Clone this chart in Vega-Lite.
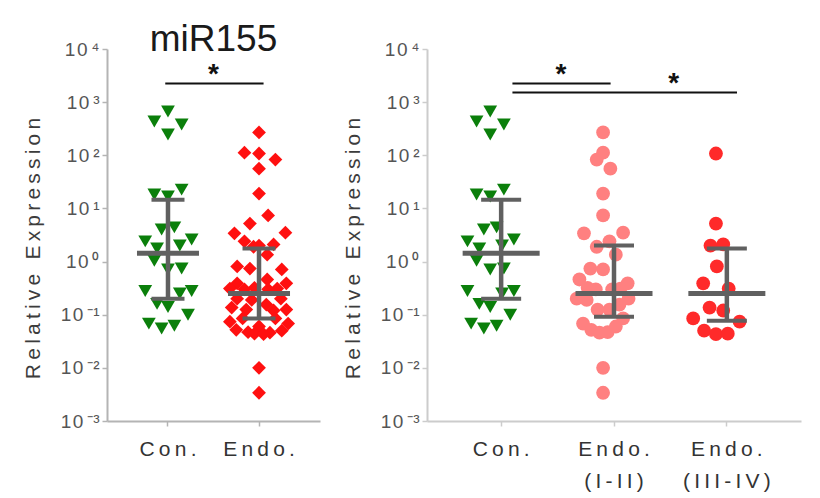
{
  "$schema": "https://vega.github.io/schema/vega-lite/v6.json",
  "background": "white",
  "padding": {"left": 22, "top": 21, "right": 5, "bottom": 2},
  "spacing": 22,
  "config": {
    "font": "Liberation Sans",
    "view": {"stroke": null},
    "tick": {"opacity": 1},
    "axis": {
      "grid": false,
      "labelFont": "Liberation Sans",
      "titleFont": "Liberation Sans",
      "domainColor": "#b4b4b4",
      "domainWidth": 2,
      "tickColor": "#b4b4b4",
      "tickWidth": 1.5,
      "tickSize": 5
    }
  },
  "resolve": {"scale": {"color": "independent", "shape": "independent"}},
  "datasets": {
    "leftPoints": [
      {"group": "Con.", "value": 665, "jitter": 0},
      {"group": "Con.", "value": 434, "jitter": -0.15},
      {"group": "Con.", "value": 380, "jitter": 0.15},
      {"group": "Con.", "value": 246, "jitter": 0},
      {"group": "Con.", "value": 18.3, "jitter": -0.15},
      {"group": "Con.", "value": 16.7, "jitter": 0},
      {"group": "Con.", "value": 22.6, "jitter": 0.15},
      {"group": "Con.", "value": 4.0, "jitter": -0.07},
      {"group": "Con.", "value": 4.4, "jitter": 0.07},
      {"group": "Con.", "value": 2.4, "jitter": -0.25},
      {"group": "Con.", "value": 1.76, "jitter": -0.12},
      {"group": "Con.", "value": 2.0, "jitter": 0.13},
      {"group": "Con.", "value": 2.6, "jitter": 0.26},
      {"group": "Con.", "value": 1.04, "jitter": -0.15},
      {"group": "Con.", "value": 0.71, "jitter": 0},
      {"group": "Con.", "value": 0.74, "jitter": 0.15},
      {"group": "Con.", "value": 0.28, "jitter": -0.25},
      {"group": "Con.", "value": 0.16, "jitter": -0.12},
      {"group": "Con.", "value": 0.14, "jitter": 0},
      {"group": "Con.", "value": 0.25, "jitter": 0.13},
      {"group": "Con.", "value": 0.28, "jitter": 0.26},
      {"group": "Con.", "value": 0.10, "jitter": 0.22},
      {"group": "Con.", "value": 0.068, "jitter": -0.21},
      {"group": "Con.", "value": 0.055, "jitter": -0.07},
      {"group": "Con.", "value": 0.062, "jitter": 0.07},
      {"group": "Endo.", "value": 269, "jitter": 0},
      {"group": "Endo.", "value": 112, "jitter": -0.16},
      {"group": "Endo.", "value": 108, "jitter": 0},
      {"group": "Endo.", "value": 83, "jitter": 0.18},
      {"group": "Endo.", "value": 56, "jitter": 0},
      {"group": "Endo.", "value": 19, "jitter": 0},
      {"group": "Endo.", "value": 7.4, "jitter": 0.10},
      {"group": "Endo.", "value": 5.2, "jitter": -0.10},
      {"group": "Endo.", "value": 3.5, "jitter": 0.29},
      {"group": "Endo.", "value": 3.4, "jitter": -0.27},
      {"group": "Endo.", "value": 2.4, "jitter": -0.16},
      {"group": "Endo.", "value": 2.1, "jitter": 0.16},
      {"group": "Endo.", "value": 2.0, "jitter": 0},
      {"group": "Endo.", "value": 1.9, "jitter": -0.06},
      {"group": "Endo.", "value": 1.35, "jitter": 0.09},
      {"group": "Endo.", "value": 0.81, "jitter": -0.24},
      {"group": "Endo.", "value": 0.74, "jitter": -0.10},
      {"group": "Endo.", "value": 0.71, "jitter": 0.25},
      {"group": "Endo.", "value": 0.46, "jitter": 0.09},
      {"group": "Endo.", "value": 0.39, "jitter": -0.24},
      {"group": "Endo.", "value": 0.39, "jitter": 0.30},
      {"group": "Endo.", "value": 0.32, "jitter": -0.05},
      {"group": "Endo.", "value": 0.31, "jitter": 0.20},
      {"group": "Endo.", "value": 0.31, "jitter": -0.32},
      {"group": "Endo.", "value": 0.30, "jitter": 0.10},
      {"group": "Endo.", "value": 0.30, "jitter": -0.16},
      {"group": "Endo.", "value": 0.20, "jitter": -0.24},
      {"group": "Endo.", "value": 0.20, "jitter": 0.24},
      {"group": "Endo.", "value": 0.19, "jitter": -0.08},
      {"group": "Endo.", "value": 0.155, "jitter": 0.08},
      {"group": "Endo.", "value": 0.136, "jitter": -0.30},
      {"group": "Endo.", "value": 0.125, "jitter": -0.14},
      {"group": "Endo.", "value": 0.125, "jitter": 0.30},
      {"group": "Endo.", "value": 0.12, "jitter": 0.16},
      {"group": "Endo.", "value": 0.085, "jitter": -0.18},
      {"group": "Endo.", "value": 0.085, "jitter": 0.18},
      {"group": "Endo.", "value": 0.074, "jitter": -0.32},
      {"group": "Endo.", "value": 0.068, "jitter": 0.32},
      {"group": "Endo.", "value": 0.060, "jitter": 0},
      {"group": "Endo.", "value": 0.052, "jitter": -0.25},
      {"group": "Endo.", "value": 0.050, "jitter": 0.25},
      {"group": "Endo.", "value": 0.047, "jitter": -0.12},
      {"group": "Endo.", "value": 0.046, "jitter": 0.12},
      {"group": "Endo.", "value": 0.044, "jitter": -0.05},
      {"group": "Endo.", "value": 0.043, "jitter": 0.05},
      {"group": "Endo.", "value": 0.010, "jitter": 0},
      {"group": "Endo.", "value": 0.0034, "jitter": 0}
    ],
    "rightPoints": [
      {"group": "Con.", "value": 665, "jitter": 0},
      {"group": "Con.", "value": 434, "jitter": -0.15},
      {"group": "Con.", "value": 380, "jitter": 0.15},
      {"group": "Con.", "value": 246, "jitter": 0},
      {"group": "Con.", "value": 18.3, "jitter": -0.15},
      {"group": "Con.", "value": 16.7, "jitter": 0},
      {"group": "Con.", "value": 22.6, "jitter": 0.15},
      {"group": "Con.", "value": 4.0, "jitter": -0.07},
      {"group": "Con.", "value": 4.4, "jitter": 0.07},
      {"group": "Con.", "value": 2.4, "jitter": -0.25},
      {"group": "Con.", "value": 1.76, "jitter": -0.12},
      {"group": "Con.", "value": 2.0, "jitter": 0.13},
      {"group": "Con.", "value": 2.6, "jitter": 0.26},
      {"group": "Con.", "value": 1.04, "jitter": -0.15},
      {"group": "Con.", "value": 0.71, "jitter": 0},
      {"group": "Con.", "value": 0.74, "jitter": 0.15},
      {"group": "Con.", "value": 0.28, "jitter": -0.25},
      {"group": "Con.", "value": 0.16, "jitter": -0.12},
      {"group": "Con.", "value": 0.14, "jitter": 0},
      {"group": "Con.", "value": 0.25, "jitter": 0.13},
      {"group": "Con.", "value": 0.28, "jitter": 0.26},
      {"group": "Con.", "value": 0.10, "jitter": 0.22},
      {"group": "Con.", "value": 0.068, "jitter": -0.21},
      {"group": "Con.", "value": 0.055, "jitter": -0.07},
      {"group": "Con.", "value": 0.062, "jitter": 0.07},
      {"group": "Endo. (I-II)", "value": 269, "jitter": 0},
      {"group": "Endo. (I-II)", "value": 112, "jitter": 0},
      {"group": "Endo. (I-II)", "value": 83, "jitter": -0.07},
      {"group": "Endo. (I-II)", "value": 56, "jitter": 0.08},
      {"group": "Endo. (I-II)", "value": 19, "jitter": 0},
      {"group": "Endo. (I-II)", "value": 7.4, "jitter": 0},
      {"group": "Endo. (I-II)", "value": 3.4, "jitter": -0.21},
      {"group": "Endo. (I-II)", "value": 3.5, "jitter": 0.22},
      {"group": "Endo. (I-II)", "value": 2.4, "jitter": 0.07},
      {"group": "Endo. (I-II)", "value": 1.9, "jitter": -0.07},
      {"group": "Endo. (I-II)", "value": 1.35, "jitter": 0.14},
      {"group": "Endo. (I-II)", "value": 0.74, "jitter": -0.14},
      {"group": "Endo. (I-II)", "value": 0.71, "jitter": 0},
      {"group": "Endo. (I-II)", "value": 0.46, "jitter": -0.26},
      {"group": "Endo. (I-II)", "value": 0.39, "jitter": 0.27},
      {"group": "Endo. (I-II)", "value": 0.32, "jitter": -0.17},
      {"group": "Endo. (I-II)", "value": 0.30, "jitter": -0.08},
      {"group": "Endo. (I-II)", "value": 0.30, "jitter": 0.10},
      {"group": "Endo. (I-II)", "value": 0.31, "jitter": 0.19},
      {"group": "Endo. (I-II)", "value": 0.20, "jitter": -0.29},
      {"group": "Endo. (I-II)", "value": 0.20, "jitter": 0.28},
      {"group": "Endo. (I-II)", "value": 0.19, "jitter": -0.18},
      {"group": "Endo. (I-II)", "value": 0.155, "jitter": 0.18},
      {"group": "Endo. (I-II)", "value": 0.125, "jitter": -0.06},
      {"group": "Endo. (I-II)", "value": 0.125, "jitter": 0.07},
      {"group": "Endo. (I-II)", "value": 0.085, "jitter": 0.22},
      {"group": "Endo. (I-II)", "value": 0.068, "jitter": -0.22},
      {"group": "Endo. (I-II)", "value": 0.060, "jitter": 0.14},
      {"group": "Endo. (I-II)", "value": 0.052, "jitter": -0.13},
      {"group": "Endo. (I-II)", "value": 0.046, "jitter": -0.04},
      {"group": "Endo. (I-II)", "value": 0.047, "jitter": 0.05},
      {"group": "Endo. (I-II)", "value": 0.010, "jitter": 0},
      {"group": "Endo. (I-II)", "value": 0.0034, "jitter": 0},
      {"group": "Endo. (III-IV)", "value": 108, "jitter": 0},
      {"group": "Endo. (III-IV)", "value": 5.2, "jitter": 0},
      {"group": "Endo. (III-IV)", "value": 2.0, "jitter": -0.06},
      {"group": "Endo. (III-IV)", "value": 2.1, "jitter": 0.08},
      {"group": "Endo. (III-IV)", "value": 0.81, "jitter": 0.01},
      {"group": "Endo. (III-IV)", "value": 0.39, "jitter": -0.14},
      {"group": "Endo. (III-IV)", "value": 0.31, "jitter": 0.14},
      {"group": "Endo. (III-IV)", "value": 0.136, "jitter": -0.07},
      {"group": "Endo. (III-IV)", "value": 0.12, "jitter": 0.08},
      {"group": "Endo. (III-IV)", "value": 0.085, "jitter": -0.25},
      {"group": "Endo. (III-IV)", "value": 0.074, "jitter": 0.26},
      {"group": "Endo. (III-IV)", "value": 0.050, "jitter": -0.13},
      {"group": "Endo. (III-IV)", "value": 0.043, "jitter": 0},
      {"group": "Endo. (III-IV)", "value": 0.044, "jitter": 0.13}
    ],
    "leftStats": [
      {"group": "Con.", "center": 1.43, "lo": 0.20, "hi": 14.5},
      {"group": "Endo.", "center": 0.25, "lo": 0.085, "hi": 1.76}
    ],
    "rightStats": [
      {"group": "Con.", "center": 1.43, "lo": 0.20, "hi": 14.5},
      {"group": "Endo. (I-II)", "center": 0.25, "lo": 0.092, "hi": 2.0},
      {"group": "Endo. (III-IV)", "center": 0.25, "lo": 0.077, "hi": 1.76}
    ],
    "leftSig": [
      {"from": "Con.", "to": "Endo.", "level": 2250, "label": "*"}
    ],
    "rightSigShort": [
      {"from": "Con.", "to": "Endo. (I-II)", "level": 2250, "label": "*"}
    ],
    "rightSigLong": [
      {"from": "Con.", "to": "Endo. (III-IV)", "star": "Endo. (I-II)", "level": 1520, "label": "*"}
    ]
  },
  "hconcat": [
    {
      "width": 213,
      "height": 372,
      "encoding": {
        "x": {
          "field": "group", "type": "nominal",
          "scale": {"type": "band", "domain": ["Con.", "Endo."], "paddingInner": 0, "paddingOuter": 0.17},
          "axis": {
            "title": null, "labelAngle": 0, "labelFontSize": 21, "labelColor": "#333333",
            "labelPadding": 12, "labelLineHeight": 32,
            "labelExpr": "datum.label == 'Con.' ? 'C\u2009o\u2009n\u2009.' : 'E\u2009n\u2009d\u2009o\u2009.'"
          }
        }
      },
      "layer": [
        {
          "data": {"name": "leftPoints"},
          "mark": {"type": "point", "filled": true, "opacity": 1, "size": 190},
          "encoding": {
            "xOffset": {"field": "jitter", "type": "quantitative", "scale": {"domain": [-0.5, 0.5]}},
            "y": {
              "field": "value", "type": "quantitative",
              "scale": {"type": "log", "domain": [0.001, 10000]},
              "axis": {
                "title": "R\u2009e\u2009l\u2009a\u2009t\u2009i\u2009v\u2009e\u2009 \u2009E\u2009x\u2009p\u2009r\u2009e\u2009s\u2009s\u2009i\u2009o\u2009n",
                "values": [0.001, 0.01, 0.1, 1, 10, 100, 1000, 10000],
                "labelExpr": "['1\u200a0\u2009⁻³','1\u200a0\u2009⁻²','1\u200a0\u2009⁻¹','1\u200a0\u2009⁰','1\u200a0\u2009¹','1\u200a0\u2009²','1\u200a0\u2009³','1\u200a0\u2009⁴'][round(log(datum.value)/LN10)+3]",
                "labelFontSize": 19, "labelColor": "#555555", "labelPadding": 3,
                "titleFontSize": 21, "titleFontWeight": "normal", "titleColor": "#3c3c3c", "titlePadding": 17, "titleY": 199
              }
            },
            "shape": {"field": "group", "type": "nominal", "scale": {"domain": ["Con.", "Endo."], "range": ["triangle-down", "diamond"]}, "legend": null},
            "color": {"field": "group", "type": "nominal", "scale": {"domain": ["Con.", "Endo."], "range": ["#0b7f0b", "#ff1010"]}, "legend": null}
          }
        },
        {
          "data": {"name": "leftStats"},
          "mark": {"type": "rule", "color": "#606060", "strokeWidth": 4.5},
          "encoding": {
            "y": {"field": "lo", "type": "quantitative"},
            "y2": {"field": "hi"}
          }
        },
        {
          "data": {"name": "leftStats"},
          "mark": {"type": "tick", "orient": "horizontal", "color": "#606060", "size": 62, "thickness": 5},
          "encoding": {"y": {"field": "center", "type": "quantitative"}}
        },
        {
          "data": {"name": "leftStats"},
          "mark": {"type": "tick", "orient": "horizontal", "color": "#606060", "size": 33, "thickness": 4},
          "encoding": {"y": {"field": "lo", "type": "quantitative"}}
        },
        {
          "data": {"name": "leftStats"},
          "mark": {"type": "tick", "orient": "horizontal", "color": "#606060", "size": 33, "thickness": 4},
          "encoding": {"y": {"field": "hi", "type": "quantitative"}}
        },
        {
          "data": {"name": "leftSig"},
          "mark": {"type": "rule", "color": "#111111", "strokeWidth": 2},
          "encoding": {
            "x": {"field": "from", "type": "nominal", "bandPosition": 0.47},
            "x2": {"field": "to", "bandPosition": 0.55},
            "y": {"field": "level", "type": "quantitative"}
          }
        },
        {
          "data": {"name": "leftSig"},
          "mark": {"type": "text", "fontSize": 28, "fontWeight": "bold", "color": "#111111", "baseline": "alphabetic"},
          "encoding": {
            "x": {"field": "from", "type": "nominal", "bandPosition": 1},
            "y": {"field": "level", "type": "quantitative"},
            "text": {"field": "label"}
          }
        },
        {
          "data": {"values": [{"name": "miR155"}]},
          "mark": {"type": "text", "fontSize": 37, "color": "#1a1a1a", "baseline": "alphabetic"},
          "encoding": {
            "x": {"datum": "Con.", "bandPosition": 1},
            "y": {"datum": 9000, "type": "quantitative"},
            "text": {"field": "name"}
          }
        }
      ]
    },
    {
      "width": 374,
      "height": 372,
      "encoding": {
        "x": {
          "field": "group", "type": "nominal",
          "scale": {"type": "band", "domain": ["Con.", "Endo. (I-II)", "Endo. (III-IV)"], "paddingInner": 0, "paddingOuter": 0.157},
          "axis": {
            "title": null, "labelAngle": 0, "labelFontSize": 21, "labelColor": "#333333",
            "labelPadding": 12, "labelLineHeight": 32,
            "domainColor": "#cccccc", "tickColor": "#cccccc",
            "labelExpr": "datum.label == 'Con.' ? 'C\u2009o\u2009n\u2009.' : datum.label == 'Endo. (I-II)' ? ['E\u2009n\u2009d\u2009o\u2009.', '(\u2009I\u2009-\u2009I\u2009I\u2009)'] : ['E\u2009n\u2009d\u2009o\u2009.', '(\u2009I\u2009I\u2009I\u2009-\u2009I\u2009V\u2009)']"
          }
        }
      },
      "layer": [
        {
          "data": {"name": "rightPoints"},
          "mark": {"type": "point", "filled": true, "opacity": 1, "size": 190},
          "encoding": {
            "xOffset": {"field": "jitter", "type": "quantitative", "scale": {"domain": [-0.5, 0.5]}},
            "y": {
              "field": "value", "type": "quantitative",
              "scale": {"type": "log", "domain": [0.001, 10000]},
              "axis": {
                "title": "R\u2009e\u2009l\u2009a\u2009t\u2009i\u2009v\u2009e\u2009 \u2009E\u2009x\u2009p\u2009r\u2009e\u2009s\u2009s\u2009i\u2009o\u2009n",
                "values": [0.001, 0.01, 0.1, 1, 10, 100, 1000, 10000],
                "labelExpr": "['1\u200a0\u2009⁻³','1\u200a0\u2009⁻²','1\u200a0\u2009⁻¹','1\u200a0\u2009⁰','1\u200a0\u2009¹','1\u200a0\u2009²','1\u200a0\u2009³','1\u200a0\u2009⁴'][round(log(datum.value)/LN10)+3]",
                "labelFontSize": 19, "labelColor": "#555555", "labelPadding": 3,
                "domainColor": "#cccccc", "tickColor": "#cccccc",
                "titleFontSize": 21, "titleFontWeight": "normal", "titleColor": "#3c3c3c", "titlePadding": 17, "titleY": 199
              }
            },
            "shape": {"field": "group", "type": "nominal", "scale": {"domain": ["Con.", "Endo. (I-II)", "Endo. (III-IV)"], "range": ["triangle-down", "circle", "circle"]}, "legend": null},
            "color": {"field": "group", "type": "nominal", "scale": {"domain": ["Con.", "Endo. (I-II)", "Endo. (III-IV)"], "range": ["#0b7f0b", "#ff8080", "#ff2a2a"]}, "legend": null}
          }
        },
        {
          "data": {"name": "rightStats"},
          "mark": {"type": "rule", "color": "#606060", "strokeWidth": 4.5},
          "encoding": {
            "y": {"field": "lo", "type": "quantitative"},
            "y2": {"field": "hi"}
          }
        },
        {
          "data": {"name": "rightStats"},
          "mark": {"type": "tick", "orient": "horizontal", "color": "#606060", "size": 77, "thickness": 5},
          "encoding": {"y": {"field": "center", "type": "quantitative"}}
        },
        {
          "data": {"name": "rightStats"},
          "mark": {"type": "tick", "orient": "horizontal", "color": "#606060", "size": 40, "thickness": 4},
          "encoding": {"y": {"field": "lo", "type": "quantitative"}}
        },
        {
          "data": {"name": "rightStats"},
          "mark": {"type": "tick", "orient": "horizontal", "color": "#606060", "size": 40, "thickness": 4},
          "encoding": {"y": {"field": "hi", "type": "quantitative"}}
        },
        {
          "data": {"name": "rightSigShort"},
          "mark": {"type": "rule", "color": "#111111", "strokeWidth": 2},
          "encoding": {
            "x": {"field": "from", "type": "nominal", "bandPosition": 0.6},
            "x2": {"field": "to", "bandPosition": 0.47},
            "y": {"field": "level", "type": "quantitative"}
          }
        },
        {
          "data": {"name": "rightSigLong"},
          "mark": {"type": "rule", "color": "#111111", "strokeWidth": 2},
          "encoding": {
            "x": {"field": "from", "type": "nominal", "bandPosition": 0.6},
            "x2": {"field": "to", "bandPosition": 0.59},
            "y": {"field": "level", "type": "quantitative"}
          }
        },
        {
          "data": {"name": "rightSigShort"},
          "mark": {"type": "text", "fontSize": 28, "fontWeight": "bold", "color": "#111111", "baseline": "alphabetic"},
          "encoding": {
            "x": {"field": "from", "type": "nominal", "bandPosition": 1.03},
            "y": {"field": "level", "type": "quantitative"},
            "text": {"field": "label"}
          }
        },
        {
          "data": {"name": "rightSigLong"},
          "mark": {"type": "text", "fontSize": 28, "fontWeight": "bold", "color": "#111111", "baseline": "alphabetic"},
          "encoding": {
            "x": {"field": "star", "type": "nominal", "bandPosition": 1.03},
            "y": {"field": "level", "type": "quantitative"},
            "text": {"field": "label"}
          }
        }
      ]
    }
  ]
}
